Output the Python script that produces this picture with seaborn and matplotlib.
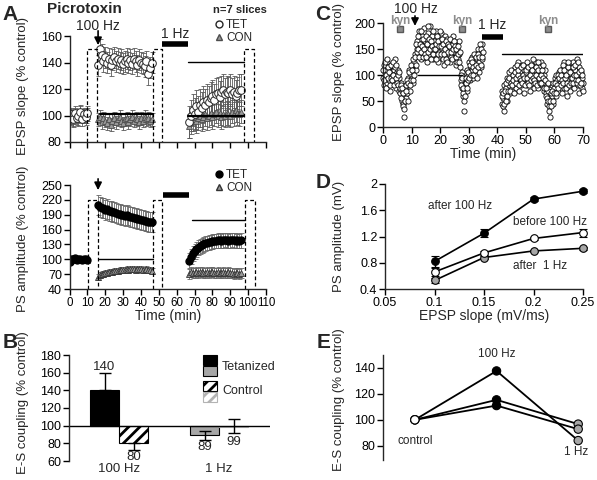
import numpy as np
import pandas as pd
import seaborn as sns
import matplotlib.pyplot as plt
from matplotlib.lines import Line2D
from matplotlib.patches import Rectangle

# ---------------- panel A : time courses (picrotoxin, n=7) ----------------
t_base = list(range(0, 11))
t_hfs = list(range(16, 47))
t_lfs = list(range(67, 97))

# EPSP slope, TET
epsp_tet = ([99, 101, 97, 102, 98, 100, 103, 97, 101, 99, 102] +
            [138, 150, 146, 141, 144, 140, 143, 138, 142, 144, 141, 143, 140, 142, 139, 141,
             143, 140, 142, 139, 143, 141, 138, 142, 140, 139, 137, 141, 131, 136, 140] +
            [95, 100, 104, 101, 107, 103, 108, 106, 110, 108, 112, 110, 113, 115, 112, 116,
             117, 114, 118, 119, 116, 118, 117, 119, 116, 118, 115, 117, 119, 119])
epsp_tet_err = [5] * 11 + [8] * 31 + [12] * 30
# EPSP slope, CON
epsp_con = ([98, 100, 96, 101, 99, 97, 102, 99, 100, 98, 101] +
            [97, 99, 95, 98, 96, 94, 97, 93, 96, 98, 95, 97, 99, 96, 94, 97, 98, 95, 97, 99,
             96, 98, 97, 95, 98, 96, 99, 97, 98, 96, 97] +
            [92, 95, 97, 99, 96, 98, 100, 97, 99, 101, 98, 100, 102, 99, 101, 103, 100, 102,
             99, 101, 100, 102, 101, 100, 103, 101, 104, 102, 101, 103])
epsp_con_err = [5] * 11 + [5] * 31 + [9] * 30

# PS amplitude, TET
ps_tet = ([95, 101, 100, 102, 99, 101, 100, 99, 101, 100, 98] +
          [210, 205, 203, 204, 200, 201, 198, 197, 196, 195, 193, 192, 191, 190, 189, 188,
           189, 187, 186, 185, 184, 183, 182, 181, 180, 179, 178, 177, 176, 175, 176] +
          [97, 105, 112, 116, 120, 123, 126, 128, 130, 132, 133, 134, 135, 136, 137, 137,
           138, 138, 137, 138, 139, 138, 137, 138, 139, 138, 137, 138, 137, 138])
ps_tet_err = [3] * 11 + [20] * 31 + [15] * 30
# PS amplitude, CON
ps_con = ([100, 99, 101, 100, 98, 101, 100, 99, 100, 101, 99] +
          [65, 68, 70, 71, 72, 73, 74, 75, 75, 76, 77, 77, 78, 78, 79, 79, 80, 79, 80, 81,
           80, 79, 80, 81, 80, 79, 78, 80, 79, 78, 77] +
          [70, 75, 73, 72, 74, 73, 75, 74, 73, 72, 74, 73, 75, 74, 73, 72, 74, 73, 72, 74,
           73, 72, 74, 73, 72, 71, 73, 72, 71, 72])
ps_con_err = [3] * 11 + [6] * 31 + [10] * 30

# ---------------- panel B : E-S coupling bars ----------------
b_groups = ["100 Hz", "1 Hz"]
b_tet = [140, 89]
b_con = [80, 99]
b_tet_err_lo = [0, 5]
b_tet_err_hi = [20, 5]
b_con_err_lo = [7, 7]
b_con_err_hi = [0, 8]

# ---------------- panel C : single experiment ----------------
c_seg1 = [95, 120, 80, 105, 110, 85, 125, 100, 90, 115, 70, 105, 120, 95, 85, 110,
          100, 130, 75, 105, 90, 110, 70, 95, 65, 85, 50, 70, 45, 60, 20, 75,
          55, 80, 65, 95, 85, 110, 70, 100, 95, 120, 85, 110, 125, 140, 110, 150,
          165, 140, 185, 150, 160, 130, 175, 145, 155, 190, 135, 165, 150, 170, 125, 180,
          160, 140, 195, 155, 145, 175, 130, 160, 165, 140, 185, 150, 155, 125, 170, 145,
          160, 180, 135, 150, 145, 165, 120, 175, 150, 135, 170, 155, 140, 160, 125, 150,
          155, 135, 175, 145, 145, 160, 120, 140, 150, 130, 165, 140, 115, 90, 105, 75,
          60, 80, 30, 95, 85, 110, 70, 100, 105, 125, 90, 115, 110, 135, 95, 120,
          125, 100, 140, 115, 130, 150, 105, 125, 140, 115, 160, 130]
c_seg1b = [110, 90, 125, 75, 100, 130, 95, 115, 105, 80, 120, 95, 90, 125, 100, 80,
           115, 95, 120, 85, 100, 80, 105, 75, 80, 55, 75, 40, 65, 35, 50, 80,
           70, 90, 50, 85, 105, 80, 120, 90, 110, 90, 130, 100, 135, 120, 160, 145,
           150, 175, 135, 160, 145, 185, 155, 135, 170, 150, 140, 175, 135, 160, 195, 145,
           170, 150, 130, 165, 155, 185, 140, 150, 150, 130, 160, 175, 165, 140, 155, 185,
           140, 155, 170, 130, 160, 140, 150, 130, 165, 125, 145, 160, 155, 170, 135, 145,
           130, 160, 150, 165, 155, 135, 150, 125, 140, 155, 125, 145, 100, 80, 95, 65,
           75, 50, 60, 85, 95, 75, 105, 90, 95, 120, 100, 130, 125, 100, 115, 140,
           110, 135, 120, 95, 140, 115, 135, 160, 120, 150, 135, 145]
c_seg2 = [70, 45, 55, 30, 80, 60, 75, 95, 50, 85, 80, 105, 65, 90, 95, 70, 110, 85,
          90, 115, 75, 100, 85, 125, 95, 70, 105, 80, 120, 95, 90, 110, 65, 100,
          100, 80, 125, 90, 95, 115, 70, 105, 85, 120, 100, 75, 110, 90, 125, 95,
          100, 75, 115, 90, 95, 125, 80, 105, 85, 100, 70, 110, 65, 80, 45, 70,
          40, 60, 20, 55, 60, 80, 45, 70, 75, 95, 60, 85, 90, 70, 105, 80,
          85, 110, 65, 95, 100, 75, 125, 90, 80, 105, 60, 95, 90, 115, 70, 100,
          105, 80, 125, 90, 75, 110, 95, 130, 100, 80, 115, 65, 90, 105, 75, 95, 85]
c_seg2b = [60, 40, 65, 45, 70, 50, 85, 60, 90, 70, 95, 70, 85, 110, 80, 100, 90, 65,
           105, 85, 95, 120, 100, 110, 80, 95, 90, 115, 85, 100, 120, 95, 80, 105,
           110, 95, 85, 115, 80, 100, 120, 90, 110, 95, 130, 90, 85, 100, 115, 80,
           110, 125, 95, 85, 100, 85, 110, 120, 95, 75, 90, 60, 75, 55, 85, 50,
           30, 50, 65, 40, 70, 50, 85, 65, 85, 65, 100, 80, 75, 100, 95, 110,
           100, 80, 90, 120, 85, 110, 95, 75, 100, 85, 115, 125, 80, 105, 95, 85,
           95, 115, 85, 100, 120, 90, 100, 85, 90, 125, 105, 80, 110, 85, 100, 70]
c_t1 = np.arange(0, 35, 0.25)
c_t1b = np.arange(0.125, 35, 0.25)
c_t2 = np.arange(41.5, 70.01, 0.25)
c_t2b = np.arange(41.625, 70, 0.25)
kyn_times = [6, 27.6, 57.9]

# ---------------- panel D : input-output ----------------
d_x = [0.1, 0.15, 0.2, 0.25]
d_after100 = [0.82, 1.25, 1.77, 1.89]
d_after100_err = [0.08, 0.06, 0.03, 0.03]
d_before = [0.66, 0.95, 1.17, 1.26]
d_before_err = [0.06, 0.03, 0.02, 0.06]
d_after1 = [0.53, 0.88, 0.98, 1.02]
d_after1_err = [0.04, 0.02, 0.02, 0.02]

# ---------------- panel E : E-S coupling per curve ----------------
e_labels = ["control", "100 Hz", "1 Hz"]
e_curves = [[100, 137.7, 84], [100, 115.4, 96.7], [100, 111, 92.8]]

W, H = 597, 480
sns.set_style("ticks")
plt.rcParams["font.family"] = ["Liberation Sans", "DejaVu Sans"]
plt.rcParams["font.size"] = 9
plt.rcParams["axes.linewidth"] = 1.0
plt.rcParams["xtick.labelsize"] = 9
plt.rcParams["ytick.labelsize"] = 9
plt.rcParams["xtick.major.size"] = 4
plt.rcParams["ytick.major.size"] = 4
plt.rcParams["hatch.linewidth"] = 2.0

fig = plt.figure(figsize=(W / 100, H / 100), dpi=100)
LAB = 9.5


def add_ax(l, t, r, b):
    return fig.add_axes([l / W, 1 - b / H, (r - l) / W, (b - t) / H])


def fig_xy(x, y):
    return x / W, 1 - y / H


def style(ax):
    for s in ["top", "right"]:
        ax.spines[s].set_visible(False)
    ax.tick_params(colors="black", width=1.0, direction="out", pad=1.5)


def dashed_box(ax, x0, x1, y0, y1):
    ax.plot([x0, x0, x1, x1], [y0, y1, y1, y0], color="k", lw=0.9,
            dashes=(3, 2), clip_on=False)


def label_coords(ax, px, py, box):
    l, t, r, b = box
    ax.yaxis.set_label_coords((px - l) / (r - l), (b - py) / (b - t))


# ---- A top ----
box_a1 = (69.5, 36, 266, 142)
axa1 = add_ax(*box_a1)
style(axa1)
t_all = t_base + t_hfs + t_lfs
axa1.errorbar(t_all, epsp_con, yerr=epsp_con_err, fmt="none", ecolor="0.35",
              elinewidth=0.6, capsize=1.8, capthick=0.6)
axa1.errorbar(t_all, epsp_tet, yerr=epsp_tet_err, fmt="none", ecolor="0.35",
              elinewidth=0.6, capsize=1.8, capthick=0.6)
axa1.plot(t_all, epsp_con, ls="none", marker="^", ms=4, mfc="0.6", mec="0.3", mew=0.6)
axa1.plot(t_all, epsp_tet, ls="none", marker="o", ms=5.5, mfc="white", mec="0.15", mew=0.7)
axa1.plot([17, 47], [101, 101], color="k", lw=1.6)
axa1.plot([66.6, 97.6], [99.5, 99.5], color="k", lw=1.6)
axa1.plot([66.6, 97.6], [140.4, 140.4], color="k", lw=1.0)
for x0, x1 in [(9.8, 15.6), (46.8, 51.9), (97.8, 103.4)]:
    dashed_box(axa1, x0, x1, 80, 150)
axa1.set_xlim(0, 110)
axa1.set_ylim(80, 160)
axa1.set_yticks([80, 100, 120, 140, 160])
axa1.set_xticks(range(0, 111, 10))
axa1.set_xticklabels([])
axa1.set_ylabel("EPSP slope (% control)", fontsize=LAB)
label_coords(axa1, 29, 86, box_a1)
axa1.text(15.8, 167.5, "100 Hz", ha="center", va="center", fontsize=10, clip_on=False)
axa1.annotate("", xy=(16, 151), xytext=(16, 166),
              arrowprops=dict(arrowstyle="-|>", color="k", lw=1.2, mutation_scale=11),
              annotation_clip=False)
axa1.text(59, 161.5, "1 Hz", ha="center", va="center", fontsize=10, clip_on=False)
axa1.plot([52, 66.5], [153.6, 153.6], color="k", lw=4, solid_capstyle="butt", clip_on=False)
axa1.legend(handles=[Line2D([], [], ls="none", marker="o", ms=5, mfc="white", mec="0.15"),
                     Line2D([], [], ls="none", marker="^", ms=4, mfc="0.6", mec="0.3")],
            labels=["TET", "CON"], loc="upper left", bbox_to_anchor=fig_xy(215, 19),
            bbox_transform=fig.transFigure, frameon=False, fontsize=8.5,
            handlelength=0.7, handletextpad=0.25, labelspacing=0.1, borderpad=0,
            borderaxespad=0)

# ---- A bottom ----
box_a2 = (69.5, 185, 266, 289)
axa2 = add_ax(*box_a2)
style(axa2)
axa2.errorbar(t_all, ps_con, yerr=ps_con_err, fmt="none", ecolor="0.4",
              elinewidth=0.6, capsize=1.8, capthick=0.6)
axa2.errorbar(t_all, ps_tet, yerr=ps_tet_err, fmt="none", ecolor="0.4",
              elinewidth=0.6, capsize=1.8, capthick=0.6)
axa2.plot(t_all, ps_con, ls="none", marker="^", ms=4, mfc="0.6", mec="0.2", mew=0.6)
axa2.plot(t_all, ps_tet, ls="none", marker="o", ms=5, mfc="black", mec="black")
axa2.plot([16.3, 47], [101, 101], color="k", lw=1.0)
axa2.plot([68.6, 98], [179, 179], color="k", lw=1.0)
for x0, x1 in [(10.2, 15.8), (46.8, 51.9), (98, 103.8)]:
    dashed_box(axa2, x0, x1, 40, 220)
axa2.set_xlim(0, 110)
axa2.set_ylim(40, 250)
axa2.set_yticks([40, 70, 100, 130, 160, 190, 220, 250])
axa2.set_xticks(range(0, 111, 10))
axa2.tick_params(axis="x", labelsize=8.3)
axa2.set_xlabel("Time (min)", fontsize=10, labelpad=0)
axa2.set_ylabel("PS amplitude (% control)", fontsize=LAB)
label_coords(axa2, 29, 239, box_a2)
axa2.annotate("", xy=(16, 234), xytext=(16, 268),
              arrowprops=dict(arrowstyle="-|>", color="k", lw=1.2, mutation_scale=11),
              annotation_clip=False)
axa2.plot([52.5, 67], [229, 229], color="k", lw=4, solid_capstyle="butt", clip_on=False)
axa2.legend(handles=[Line2D([], [], ls="none", marker="o", ms=5, mfc="black", mec="black"),
                     Line2D([], [], ls="none", marker="^", ms=4, mfc="0.6", mec="0.2")],
            labels=["TET", "CON"], loc="upper left", bbox_to_anchor=fig_xy(215, 169),
            bbox_transform=fig.transFigure, frameon=False, fontsize=8.5,
            handlelength=0.7, handletextpad=0.25, labelspacing=0.1, borderpad=0,
            borderaxespad=0)

# ---- B ----
box_b = (69, 355, 270, 461)
axb = add_ax(*box_b)
style(axb)
axb.spines["bottom"].set_visible(False)
bw = 0.29
xg = np.arange(len(b_groups))
tet_h = [v - 100 for v in b_tet]
con_h = [v - 100 for v in b_con]
axb.bar(xg - bw / 2, tet_h, width=bw, bottom=100, color=["black", "0.65"],
        edgecolor="black", lw=0.8)
axb.bar(xg + bw / 2, con_h, width=bw, bottom=100, color="white",
        edgecolor=["black", "0.7"], hatch="///", lw=0.8)
axb.errorbar(xg - bw / 2, b_tet, yerr=[b_tet_err_lo, b_tet_err_hi], fmt="none",
             ecolor="black", elinewidth=1, capsize=4, capthick=1)
axb.errorbar(xg + bw / 2, b_con, yerr=[b_con_err_lo, b_con_err_hi], fmt="none",
             ecolor="black", elinewidth=1, capsize=4, capthick=1)
axb.axhline(100, color="black", lw=1.0)
axb.set_xlim(-0.5, 1.51)
axb.set_ylim(60, 180)
axb.set_yticks(range(60, 181, 20))
axb.set_xticks([])
axb.set_ylabel("E-S coupling (% control)", fontsize=LAB)
label_coords(axb, 29, 403, box_b)
for x, y, s in [(-bw / 2, 166, "140"), (bw / 2, 64.5, "80"),
                (1 - bw / 2, 76, "89"), (1 + bw / 2, 81.5, "99")]:
    axb.text(x, y, s, ha="center", va="center", fontsize=9.5)
for x, s in zip(xg, b_groups):
    axb.text(x, 51, s, ha="center", va="center", fontsize=9.5, clip_on=False)
for (l, t), fc, ec, hatch in [((203, 355), "black", "black", None),
                              ((203, 366), "0.65", "black", None),
                              ((203, 381), "white", "black", "///"),
                              ((203, 392), "white", "0.7", "///")]:
    x0, y0 = fig_xy(l, t + 10)
    fig.add_artist(Rectangle((x0, y0), 14 / W, 10 / H, transform=fig.transFigure,
                             facecolor=fc, edgecolor=ec, hatch=hatch, lw=0.8))
fig.text(*fig_xy(222, 367), "Tetanized", ha="left", va="center", fontsize=9)
fig.text(*fig_xy(222, 391), "Control", ha="left", va="center", fontsize=9)

# ---- C ----
box_c = (383, 23, 583, 127)
axc = add_ax(*box_c)
style(axc)
df_c = pd.DataFrame({"t": np.concatenate([c_t1, c_t1b, c_t2, c_t2b]),
                     "slope": c_seg1 + c_seg1b + c_seg2 + c_seg2b})
sns.scatterplot(data=df_c, x="t", y="slope", ax=axc, marker="o", s=14,
                facecolor="white", edgecolor="black", linewidth=0.6, clip_on=False)
axc.plot([12.3, 27.7], [100, 100], color="k", lw=1.0)
axc.plot([41.6, 70], [140, 140], color="k", lw=1.0)
axc.plot(kyn_times, [188] * 3, ls="none", marker="s", ms=5, mfc="0.55", mec="0.35",
         clip_on=False)
for x in kyn_times:
    axc.text(x, 203, "kyn", ha="center", va="center", fontsize=8.5, color="0.55",
             fontweight="bold", clip_on=False)
axc.text(11.4, 226, "100 Hz", ha="center", va="center", fontsize=10, clip_on=False)
axc.annotate("", xy=(11.2, 189), xytext=(11.2, 219),
             arrowprops=dict(arrowstyle="-|>", color="k", lw=1.2, mutation_scale=11),
             annotation_clip=False)
axc.text(38.3, 197, "1 Hz", ha="center", va="center", fontsize=10, clip_on=False)
axc.plot([34.6, 42], [174, 174], color="k", lw=4, solid_capstyle="butt", clip_on=False)
axc.set_xlim(0, 70)
axc.set_ylim(0, 200)
axc.set_xticks(range(0, 71, 10))
axc.set_yticks(range(0, 201, 50))
axc.set_xlabel("Time (min)", fontsize=10, labelpad=0)
axc.set_ylabel("EPSP slope (% control)", fontsize=LAB)
label_coords(axc, 345, 72, box_c)

# ---- D ----
box_d = (385, 184, 583, 289)
axd = add_ax(*box_d)
style(axd)
for y, e, fc in [(d_after1, d_after1_err, "0.65"), (d_before, d_before_err, "white"),
                 (d_after100, d_after100_err, "black")]:
    axd.errorbar(d_x, y, yerr=e, color="black", lw=1.2, marker="o", ms=5.5, mfc=fc,
                 mec="black", mew=0.8, ecolor="black", elinewidth=1, capsize=3,
                 clip_on=False)
axd.set_xlim(0.05, 0.25)
axd.set_ylim(0.4, 2.0)
axd.set_xticks([0.05, 0.1, 0.15, 0.2, 0.25])
axd.set_xticklabels(["0.05", "0.1", "0.15", "0.2", "0.25"])
axd.set_yticks([0.4, 0.8, 1.2, 1.6, 2.0])
axd.set_yticklabels(["0.4", "0.8", "1.2", "1.6", "2"])
axd.set_xlabel("EPSP slope (mV/ms)", fontsize=10, labelpad=0)
axd.set_ylabel("PS amplitude (mV)", fontsize=LAB)
label_coords(axd, 345, 236, box_d)
axd.text(0.1258, 1.66, "after 100 Hz", ha="center", va="center", fontsize=8.5)
axd.text(0.2167, 1.42, "before 100 Hz", ha="center", va="center", fontsize=8.5)
axd.text(0.2066, 0.75, "after  1 Hz", ha="center", va="center", fontsize=8.5)

# ---- E ----
box_e = (383, 355, 588, 460)
axe = add_ax(*box_e)
style(axe)
axe.spines["bottom"].set_visible(False)
rows = []
for i, curve in enumerate(e_curves):
    for j, v in enumerate(curve):
        rows.append({"curve": i, "pos": j, "cond": e_labels[j], "val": v})
df_e = pd.DataFrame(rows)
sns.lineplot(data=df_e, x="pos", y="val", units="curve", estimator=None, color="black",
             lw=1.3, ax=axe)
sns.scatterplot(data=df_e, x="pos", y="val", hue="cond", ax=axe, s=36, zorder=3,
                palette={"control": "white", "100 Hz": "black", "1 Hz": "0.65"},
                edgecolor="black", linewidth=0.8, legend=False, clip_on=False)
axe.set_xlim(-0.39, 2.12)
axe.set_ylim(69, 150)
axe.set_yticks([80, 100, 120, 140])
axe.set_xticks([])
axe.set_xlabel("")
axe.set_ylabel("E-S coupling (% control)", fontsize=LAB)
label_coords(axe, 345, 400, box_e)
axe.text(0, 84, "control", ha="center", va="center", fontsize=8.5)
axe.text(1, 151, "100 Hz", ha="center", va="center", fontsize=8.5, clip_on=False)
axe.text(1.98, 75, "1 Hz", ha="center", va="center", fontsize=8.5)

# ---- panel letters and titles ----
for x, y, s in [(10, 14, "A"), (10, 342, "B"), (323, 14, "C"), (323, 183, "D"),
                (324, 342, "E")]:
    fig.text(*fig_xy(x, y), s, ha="center", va="center", fontsize=15, fontweight="bold")
fig.text(*fig_xy(47, 9), "Picrotoxin", ha="left", va="center", fontsize=11,
         fontweight="bold")
fig.text(*fig_xy(240, 10), "n=7 slices", ha="center", va="center", fontsize=8,
         fontweight="bold")

fig.savefig("out.png", dpi=100, facecolor="white")
